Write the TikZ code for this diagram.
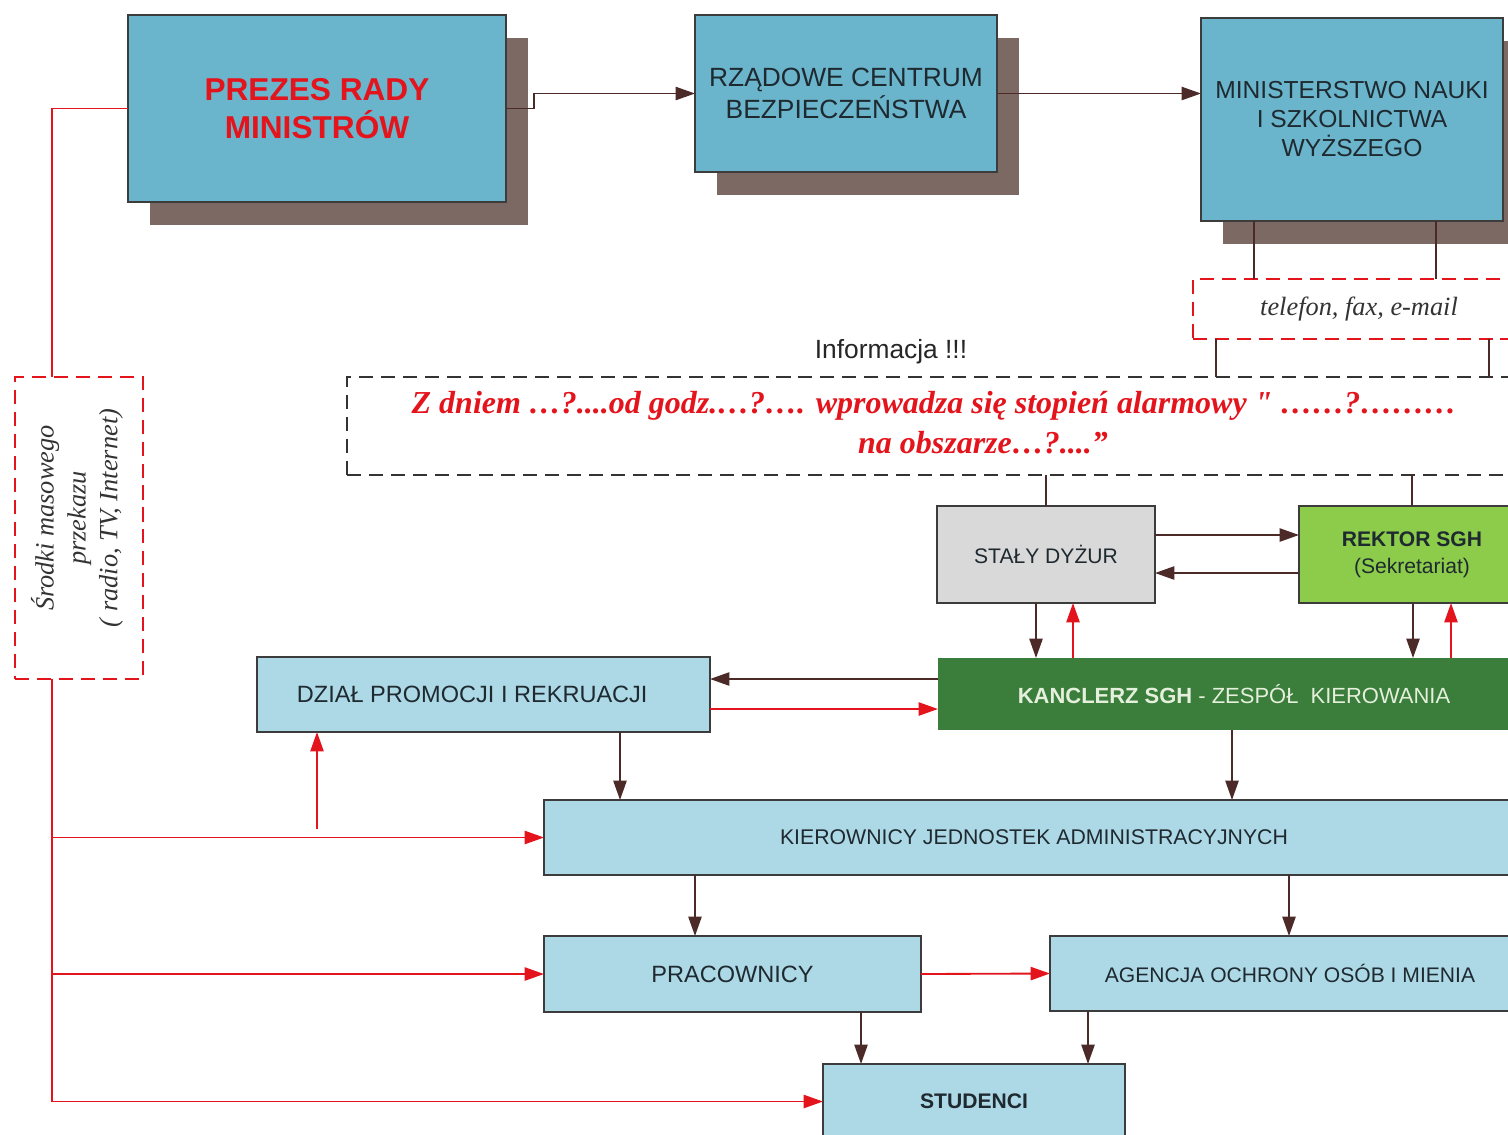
\documentclass[tikz,border=0pt]{standalone}
\usepackage{fontspec}
\setmainfont{Liberation Sans}
\newfontfamily\timesfont{Liberation Serif}
\usepackage{xcolor}
\definecolor{topblue}{HTML}{6AB4CC}
\definecolor{paleblue}{HTML}{ADD8E6}
\definecolor{shadowbrown}{HTML}{7D6964}
\definecolor{dutygray}{HTML}{D9D9D9}
\definecolor{rectorgreen}{HTML}{8DCB4B}
\definecolor{chancgreen}{HTML}{3B7D3B}
\definecolor{chanctext}{HTML}{E4F0DC}
\definecolor{linkbrown}{HTML}{4B2A28}
\definecolor{alertred}{HTML}{E3141C}
\definecolor{edgegray}{HTML}{3C3C3C}
\definecolor{boxtext}{HTML}{1E2A30}
\usepackage{tikz}
\usetikzlibrary{arrows.meta,calc,backgrounds}

\tikzset{
  spanbox/.style args={#1/#2/#3/#4}{at={({(#1+#3)/2},{(#2+#4)/2})},
    minimum width={(#3-#1)*0.02cm}, minimum height={(#4-#2)*0.02cm}},
  box/.style={draw=edgegray, line width=0.8pt, inner sep=0pt, outer sep=0pt, align=center, text=boxtext},
  topbox/.style={box, fill=topblue},
  palebox/.style={box, fill=paleblue},
  dashbox/.style={dash pattern=on 8pt off 4.5pt, line width=1pt, inner sep=0pt, outer sep=0pt},
  wire/.style={draw=linkbrown, line width=1.05pt},
  link/.style={wire, -{Triangle[length=11pt,width=7.5pt]}},
  redwire/.style={draw=alertred, line width=1.05pt},
  redlink/.style={redwire, -{Triangle[length=11pt,width=7.5pt]}},
}
\newcommand{\shadowof}[1]{\fill[shadowbrown] ($(#1.south west)+(22,23)$) rectangle ($(#1.north east)+(22,23)$);}
\newcommand{\fs}[1]{\fontsize{#1}{1.2\dimexpr #1pt\relax}\selectfont}

\begin{document}
\begin{tikzpicture}[x=0.02cm, y=-0.02cm]
  \useasboundingbox (0,0) rectangle (1508,1134);
  \clip (0,0) rectangle (1508,1134);

  % top row
  \node (prezes) [topbox, spanbox=128/15/506/202, text=alertred,
    font=\bfseries\fontsize{18}{21.6}\selectfont] {PREZES RADY\\MINISTRÓW};
  \node (rcb) [topbox, spanbox=695/15/997/172, font=\fontsize{15}{18.2}\selectfont]
    {RZĄDOWE CENTRUM\\BEZPIECZEŃSTWA};
  \node (mnisw) [topbox, spanbox=1201/18/1503/221, font=\fontsize{14}{16.5}\selectfont]
    {MINISTERSTWO NAUKI\\I SZKOLNICTWA\\WYŻSZEGO};
  \begin{scope}[on background layer]
    \shadowof{prezes}
    \shadowof{rcb}
    \shadowof{mnisw}
  \end{scope}

  % channels
  \node (tel) [dashbox, draw=alertred, fill=white, spanbox=1193/279/1525/339,
    font=\timesfont\itshape\fontsize{15}{18}\selectfont, text=black!80] {telefon, fax, e-mail};
  \node (info) [dashbox, draw=black!80, spanbox=347/377/1530/475] {};
  \node (infolabel) at (891,352) [font=\fontsize{15}{18}\selectfont, text=black!85] {Informacja !!!};
  \node (infotxt1) at (934,406) [font=\timesfont\bfseries\itshape\fontsize{18.2}{21}\selectfont, text=alertred]
    {Z dniem …?....od godz.…?…. wprowadza się stopień alarmowy "~……?………};
  \node (infotxt2) at (983,443) [font=\timesfont\bfseries\itshape\fontsize{18.2}{21}\selectfont, text=alertred]
    {na obszarze…?....”};
  \node (media) [dashbox, draw=alertred, spanbox=15/377/143/679] {};
  \node (mediatxt) at ($(media.center)+(-2,-10)$) [rotate=90, align=center, text=black!80,
    font=\timesfont\itshape\fontsize{15}{18.2}\selectfont]
    {Środki masowego\\przekazu\\( radio, TV, Internet)};

  % university
  \node (duty) [box, fill=dutygray, spanbox=937/506/1155/603, font=\fs{12}] {STAŁY DYŻUR};
  \node (rektor) [box, fill=rectorgreen, spanbox=1299/506/1525/603, font=\fontsize{12}{15.4}\selectfont]
    {\textbf{REKTOR SGH}\\(Sekretariat)};
  \node (kanc) [box, draw=none, fill=chancgreen, spanbox=938/658/1530/730, text=chanctext, font=\fs{12.5}]
    {\textbf{KANCLERZ SGH} - ZESPÓŁ~ KIEROWANIA};
  \node (dzial) [palebox, spanbox=257/657/710/732, font=\fs{13.4}] {DZIAŁ PROMOCJI I REKRUACJI\hspace*{16\pgflinewidth}};
  \node (kier) [palebox, spanbox=544/800/1524/875, font=\fs{12.1}] {KIEROWNICY JEDNOSTEK ADMINISTRACYJNYCH};
  \node (prac) [palebox, spanbox=544/936/921/1012, font=\fs{13.4}] {PRACOWNICY};
  \node (agencja) [palebox, spanbox=1050/936/1530/1011, font=\fs{12}] {AGENCJA OCHRONY OSÓB I MIENIA};
  \node (stud) [palebox, spanbox=823/1064/1125/1139, font=\bfseries\fs{12}] {STUDENCI};

  % dark links
  \draw[link] (prezes.east) -- ++(28,0) |- (rcb.west);
  \draw[link] (rcb.east) -- (rcb.east -| mnisw.west);
  \draw[wire] (mnisw.south -| 1254,0) -- (tel.north -| 1254,0);
  \draw[wire] (mnisw.south -| 1436,0) -- (tel.north -| 1436,0);
  \draw[wire] (tel.south -| 1216,0) -- (info.north -| 1216,0);
  \draw[wire] (tel.south -| 1489,0) -- (info.north -| 1489,0);
  \draw[wire] (info.south -| duty.north) -- (duty.north);
  \draw[wire] (info.south -| rektor.north) -- (rektor.north);
  \draw[link] (duty.east |- 0,535) -- (rektor.west |- 0,535);
  \draw[link] (rektor.west |- 0,573) -- (duty.east |- 0,573);
  \draw[link] (duty.south -| 1036,0) -- (kanc.north -| 1036,0);
  \draw[link] (rektor.south -| 1413,0) -- (kanc.north -| 1413,0);
  \draw[link] (kanc.west |- 0,679) -- (dzial.east |- 0,679);
  \draw[link] (dzial.south -| 620,0) -- (kier.north -| 620,0);
  \draw[link] (kanc.south -| 1232,0) -- (kier.north -| 1232,0);
  \draw[link] (kier.south -| 695,0) -- (prac.north -| 695,0);
  \draw[link] (kier.south -| 1289,0) -- (agencja.north -| 1289,0);
  \draw[link] (prac.south -| 861,0) -- (stud.north -| 861,0);
  \draw[link] (agencja.south -| 1088,0) -- (stud.north -| 1088,0);

  % red links
  \draw[redlink] (kanc.north -| 1073,0) -- (duty.south -| 1073,0);
  \draw[redlink] (kanc.north -| 1451,0) -- (rektor.south -| 1451,0);
  \draw[redlink] (dzial.east |- 0,709) -- (kanc.west |- 0,709);
  \draw[redlink] (prac.east) -- (agencja.west);
  \draw[redwire] (prezes.west) -| (media.north -| 52,0);
  \draw[redlink] (media.south -| 52,0) |- (stud.west);
  \draw[redlink] (kier.west -| 52,0) -- (kier.west);
  \draw[redlink] (prac.west -| 52,0) -- (prac.west);
  \coordinate (upfoot) at (317,829);
  \draw[redlink] (upfoot) -- (dzial.south -| upfoot);
\end{tikzpicture}
\end{document}
